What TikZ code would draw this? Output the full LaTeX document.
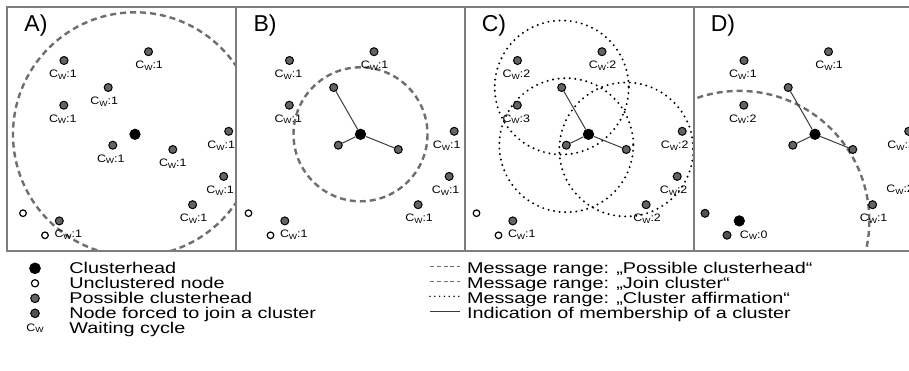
\documentclass[tikz,border=0pt]{standalone}
\usepackage{fontspec}
\setmainfont{Liberation Sans}
\usepackage{graphicx}
\usetikzlibrary{positioning, backgrounds}
\definecolor{possiblegrey}{RGB}{100,100,100}
\definecolor{forcedgrey}{RGB}{82,82,82}
\definecolor{framegrey}{RGB}{125,125,125}
\definecolor{rangegrey}{RGB}{110,110,110}
\definecolor{linkgrey}{RGB}{60,60,60}
\newcommand{\widetxt}[2][1.27]{\scalebox{#1}[1]{#2}}
\newcommand{\cwt}{C\raisebox{-0.3ex}{\fontsize{3.8}{4}\selectfont W}}
\newcommand{\legendfont}{\fontsize{7.8}{9}\selectfont}
\newcommand{\waitfont}{\fontsize{5.4}{6}\selectfont}
\tikzset{
  head/.style={
      circle, fill=black, draw=black,
      inner sep=0pt, minimum size=5.2pt,
    },
  possible/.style={
      circle, fill=possiblegrey, draw=black,
      line width=0.5pt, inner sep=0pt, minimum size=4pt,
    },
  forced/.style={
      possible, fill=forcedgrey,
    },
  free/.style={
      circle, fill=white, draw=black,
      line width=0.6pt, inner sep=0pt, minimum size=3.3pt,
    },
  wait/.style={
      font=\waitfont, inner sep=0pt,
    },
  legend/.style={
      font=\legendfont, inner xsep=3.3pt, inner ysep=0pt,
      anchor=base west,
    },
  title/.style={
      font=\fontsize{11.5}{13}\selectfont, inner sep=0pt,
      anchor=base,
    },
  frame/.style={draw=framegrey, line width=1pt},
  possible range/.style={draw=rangegrey, line width=1.2pt, dash pattern=on 3pt off 2pt},
  join range/.style={draw=rangegrey, line width=1.2pt, dash pattern=on 3pt off 2pt},
  affirm range/.style={draw=black, line width=1.1pt, line cap=round, dash pattern=on 0pt off 2.8pt},
  member/.style={draw=linkgrey, line width=0.5pt},
}

\begin{document}
\begin{tikzpicture}[x=0.5pt, y=-0.5pt]
  \clip (0,0) rectangle (909,370);

  % nodes found in all four panels
  \foreach \p/\dx in {A/0, B/225.5, C/453.5, D/680}{
    \begin{scope}[shift={(\dx,0)}]
      \node[head] (\p-h) at (135,134.3) {};
      \foreach \n/\x/\y in {1/64/60.5, 2/148.5/51.7, 3/108.2/87.5, 4/63.8/105.2,
          5/112.8/145.2, 6/172.8/149.5, 7/228.7/131.3, 9/192.6/204.7}
        \node[possible] (\p-\n) at (\x,\y) {};
    \end{scope}
  }
  \foreach \p/\dx in {A/0, B/225.5, C/453.5}{
    \begin{scope}[shift={(\dx,0)}]
      \node[possible] (\p-8) at (223.7,176.4) {};
      \node[possible] (\p-10) at (59.3,220.9) {};
      \node[free] (\p-w1) at (23,213.2) {};
      \node[free] (\p-w2) at (45,235.3) {};
    \end{scope}
  }
  % panel D: second clusterhead
  \coordinate (D-8) at (903.7,176.4);
  \node[head] (D-h2) at (739.3,220.9) {};
  \node[forced] (D-w1) at (705,213.3) {};
  \node[forced] (D-w2) at (727,235.2) {};

  \foreach \p in {B,C,D}
    \foreach \n in {3,5,6}
      \draw[member] (\p-h) -- (\p-\n);

  % message ranges
  \begin{scope}[on background layer]
    \begin{scope}
      \clip (7,6.5) rectangle (236,250.5);
      \draw[possible range] (A-h.center) circle[radius=122];
    \end{scope}
    \draw[join range] (B-h.center) circle[radius=67];
    \foreach \n in {3,5,6}
      \draw[affirm range] (C-\n.center) circle[radius=67];
    \begin{scope}
      \clip (694,6.5) rectangle (920,250.5);
      \draw[possible range] (D-h2.center) circle[radius=130];
    \end{scope}
  \end{scope}

  % waiting cycles
  \foreach \n/\c/\s in {1/1/-0.5, 2/1/0.3, 3/1/-2, 4/1/-0.5, 5/1/-1, 6/1/0,
      7/1/-3.75, 8/1/-1.8, 9/1/0.5, 10/1/4.5}
    \node[wait, below=2.3pt of A-\n, xshift=\s*1pt] (A-c\n) {\widetxt[1.15]{\cwt:\c}};
  \foreach \n/\c/\s in {1/1/-0.5, 2/1/0.3, 4/1/-0.5, 7/1/-3.75, 8/1/-1.8, 9/1/0.5, 10/1/4.5}
    \node[wait, below=2.3pt of B-\n, xshift=\s*1pt] (B-c\n) {\widetxt[1.15]{\cwt:\c}};
  \foreach \n/\c/\s in {1/2/-0.5, 2/2/0.3, 4/3/-0.5, 7/2/-3.75, 8/2/-1.8, 9/2/0.5, 10/1/4.5}
    \node[wait, below=2.3pt of C-\n, xshift=\s*1pt] (C-c\n) {\widetxt[1.15]{\cwt:\c}};
  \foreach \n/\c/\s in {1/1/-0.5, 2/1/0.3, 4/2/-0.5, 7/2/-3.75, 9/1/0.5}
    \node[wait, below=2.3pt of D-\n, xshift=\s*1pt] (D-c\n) {\widetxt[1.15]{\cwt:\c}};
  \node[wait, below=4.3pt of D-8, xshift=-1.8pt] (D-c8) {\widetxt[1.15]{\cwt:2}};
  \node[wait, right=4pt of D-w2] (D-cw2) {\widetxt[1.15]{\cwt:0}};

  % frames and panel titles
  \draw[frame] (7,6.5) rectangle (920,250.5);
  \foreach \fx in {236,465,694}
    \draw[frame] (\fx,6.5) -- (\fx,250.5);
  \foreach \t/\fx in {A/7, B/236, C/465, D/694}
    \node[title] (title-\t) at (\fx+29,31.5) {\t)};

  % legend, left column
  \node[head, minimum size=5.4pt] (key-head) at (35,268.3) {};
  \node[free, minimum size=3.6pt] (key-free) at (35,283.3) {};
  \node[possible, minimum size=4.3pt] (key-possible) at (35,298.3) {};
  \node[forced, minimum size=4.3pt] (key-forced) at (35,313.3) {};
  \node[wait] (key-wait) at (35,328.3) {\widetxt[1.15]{\cwt}};
  \node[legend] (txt-head) at (62.4,273.7) {\widetxt{Clusterhead}};
  \node[legend] (txt-free) at (62.4,288.7) {\widetxt{Unclustered node}};
  \node[legend] (txt-possible) at (62.4,303.7) {\widetxt{Possible clusterhead}};
  \node[legend] (txt-forced) at (62.4,318.7) {\widetxt{Node forced to join a cluster}};
  \node[legend] (txt-wait) at (62.4,333.7) {\widetxt{Waiting cycle}};

  % legend, right column
  \node[legend] (txt-prange) at (460,273.7) {\widetxt{Message range: „Possible clusterhead“}};
  \node[legend] (txt-jrange) at (460,288.7) {\widetxt{Message range: „Join cluster“}};
  \node[legend] (txt-arange) at (460,303.7) {\widetxt{Message range: „Cluster affirmation“}};
  \node[legend] (txt-link) at (460,318.7) {\widetxt{Indication of membership of a cluster}};
  \coordinate (key-prange) at (430,266.3);
  \coordinate (key-jrange) at (430,281.3);
  \coordinate (key-arange) at (430,296.3);
  \coordinate (key-link) at (430,311.3);
  \draw[possible range, line width=0.6pt, dash pattern=on 2pt off 1.4pt] (key-prange) -- (key-prange -| txt-prange.west);
  \draw[join range, line width=0.6pt, dash pattern=on 2pt off 1.4pt] (key-jrange) -- (key-jrange -| txt-jrange.west);
  \draw[affirm range, line width=0.8pt, dash pattern=on 0pt off 2.4pt] (key-arange) -- (key-arange -| txt-arange.west);
  \draw[member] (key-link) -- (key-link -| txt-link.west);
\end{tikzpicture}
\end{document}
